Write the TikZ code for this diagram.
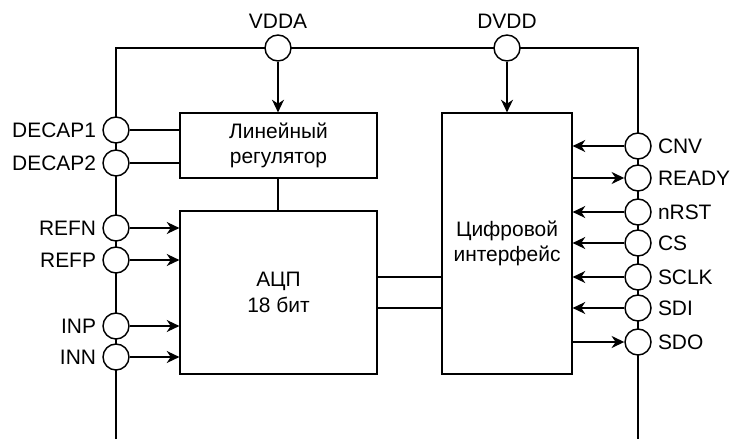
\documentclass[tikz,border=0pt]{standalone}
\usepackage{fontspec}
\setmainfont{Liberation Sans}
\usetikzlibrary{arrows.meta}
\begin{document}
\begin{tikzpicture}[x=0.75pt,y=-0.75pt,
  txt/.style={font=\fontsize{15.7}{19}\selectfont},
  bus/.style={line width=0.8pt},
  wire/.style={line width=1.2pt},
  arr/.style={wire,-{Stealth[length=9.5pt,width=9pt,inset=3pt]}},
  pin/.style={circle,draw,fill=white,line width=1.1pt,inner sep=0pt,minimum size=19.5pt},
  lab/.style={txt,inner sep=0pt},
  blk/.style={draw,line width=0.9pt,align=center,txt,inner sep=0pt},
  every label/.style={lab},
  label distance=4.5pt]
\useasboundingbox (0,0) rectangle (731,439);
% bus frame
\coordinate (lb) at (116,439);
\coordinate (tl) at (116,48);
\coordinate (tr) at (638,48);
\coordinate (rb) at (638,439);
\draw[bus] (lb) -- (tl) -- (tr) -- (rb);
% blocks
\node[blk,minimum width=197*0.75pt,minimum height=65*0.75pt] (reg) at (278.5,145.5) {Линейный\\регулятор};
\node[blk,minimum width=197*0.75pt,minimum height=163*0.75pt] (adc) at (278.5,292.5) {АЦП\\18 бит};
\node[blk,minimum width=130*0.75pt,minimum height=261*0.75pt] (dig) at (507,243.5) {Цифровой\\интерфейс};
% supply pins
\node[pin,label=above:VDDA] (vdda) at (278,48) {};
\node[pin,label=above:DVDD] (dvdd) at (507,48) {};
% left pins
\node[pin,label=left:DECAP1] (d1) at (116,130) {};
\node[pin,label=left:DECAP2] (d2) at (116,163) {};
\node[pin,label=left:REFN] (refn) at (116,228) {};
\node[pin,label=left:REFP] (refp) at (116,260) {};
\node[pin,label=left:INP] (inp) at (116,326) {};
\node[pin,label=left:INN] (inn) at (116,357) {};
% right pins
\node[pin,label=right:CNV] (cnv) at (638,146) {};
\node[pin,label=right:READY] (ready) at (638,178) {};
\node[pin,label=right:nRST] (nrst) at (638,212) {};
\node[pin,label=right:CS] (cs) at (638,243) {};
\node[pin,label=right:SCLK] (sclk) at (638,277) {};
\node[pin,label=right:SDI] (sdi) at (638,308) {};
\node[pin,label=right:SDO] (sdo) at (638,342) {};
% supply arrows
\draw[arr] (vdda.south) -- (vdda.south |- reg.north);
\draw[arr] (dvdd.south) -- (dvdd.south |- dig.north);
% decap
\draw[wire] (d1.east) -- (d1.east -| reg.west);
\draw[wire] (d2.east) -- (d2.east -| reg.west);
% adc inputs
\draw[arr] (refn.east) -- (refn.east -| adc.west);
\draw[arr] (refp.east) -- (refp.east -| adc.west);
\draw[arr] (inp.east) -- (inp.east -| adc.west);
\draw[arr] (inn.east) -- (inn.east -| adc.west);
% reg to adc
\draw[wire] (vdda.south |- reg.south) -- (vdda.south |- adc.north);
% adc to digital
\coordinate (m1) at (400,277);
\coordinate (m2) at (400,308);
\draw[wire] (adc.east |- m1) -- (dig.west |- m1);
\draw[wire] (adc.east |- m2) -- (dig.west |- m2);
% digital pins
\draw[arr] (cnv.west) -- (cnv.west -| dig.east);
\draw[arr] (ready.west -| dig.east) -- (ready.west);
\draw[arr] (nrst.west) -- (nrst.west -| dig.east);
\draw[arr] (cs.west) -- (cs.west -| dig.east);
\draw[arr] (sclk.west) -- (sclk.west -| dig.east);
\draw[arr] (sdi.west) -- (sdi.west -| dig.east);
\draw[arr] (sdo.west -| dig.east) -- (sdo.west);
\end{tikzpicture}
\end{document}
